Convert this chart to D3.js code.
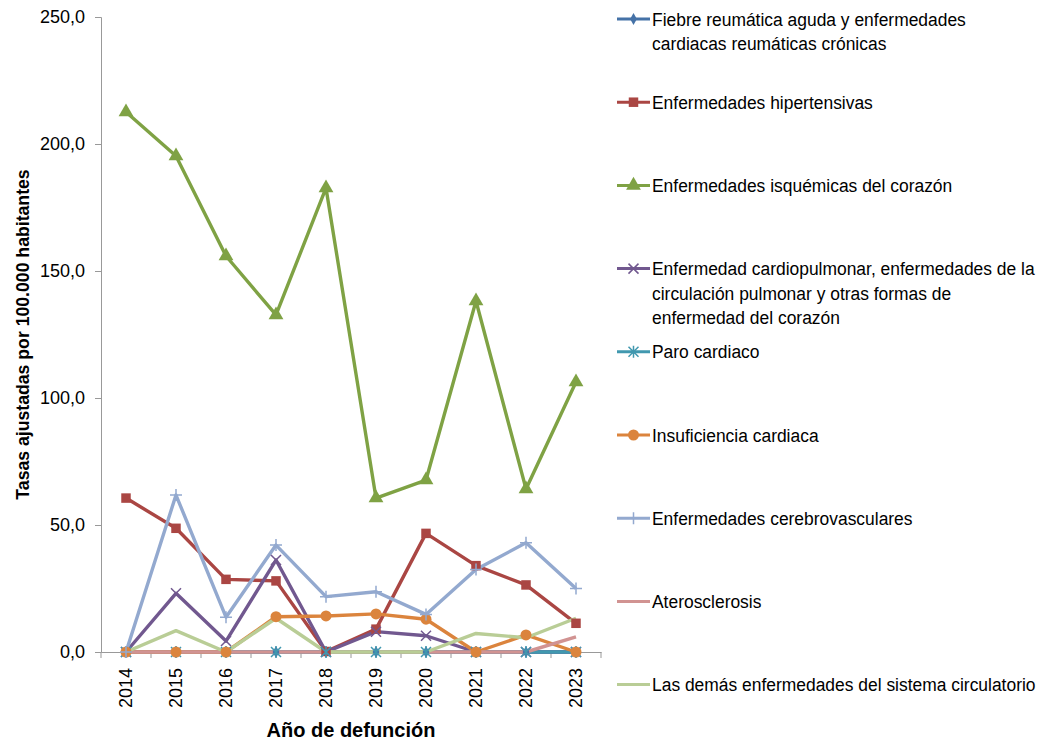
<!DOCTYPE html>
<html>
<head>
<meta charset="utf-8">
<script src="https://cdn.jsdelivr.net/npm/d3@7"></script>
<style>
  body { margin: 0; background: #fff; }
  text { font-family: "Liberation Sans Narrow", "Arial Narrow", "Liberation Sans", sans-serif; fill: #000; }
</style>
</head>
<body>
<div id="chart"></div>
<script>
var years = ['2014', '2015', '2016', '2017', '2018', '2019', '2020', '2021', '2022', '2023']
var yTicks = [0, 50, 100, 150, 200, 250]

var fiebre = [0, 0, 0, 0, 0, 0, 0, 0, 0, 0]
var hipertensivas = [60.6, 48.7, 28.6, 28.0, 0.2, 9.0, 46.7, 34.0, 26.4, 11.3]
var isquemicas = [212.6, 195.3, 155.9, 132.7, 182.7, 60.6, 67.7, 138.2, 64.2, 106.3]
var cardiopulmonar = [0, 23.1, 4.3, 36.2, 0, 8.0, 6.4, 0, 0, 0]
var paro = [0, 0, 0, 0, 0, 0, 0, 0, 0, 0]
var insuficiencia = [0, 0, 0, 13.9, 14.2, 15.0, 12.9, 0, 6.7, 0]
var cerebrovasculares = [0, 61.8, 13.7, 42.1, 21.8, 23.7, 14.8, 32.5, 43.0, 25.0]
var aterosclerosis = [0, 0, 0, 0, 0, 0, 0, 0, 0, 6.0]
var demas = [0, 8.4, 0, 13.3, 0, 0, 0, 7.3, 5.6, 13.3]

var series = [
  { name: ['Fiebre reumática aguda y enfermedades', 'cardiacas reumáticas crónicas'], values: fiebre, color: '#4572A7', marker: 'diamond' },
  { name: ['Enfermedades hipertensivas'], values: hipertensivas, color: '#AA4643', marker: 'square' },
  { name: ['Enfermedades isquémicas del corazón'], values: isquemicas, color: '#7FA244', marker: 'triangle' },
  { name: ['Enfermedad cardiopulmonar, enfermedades de la', 'circulación pulmonar y otras formas de', 'enfermedad del corazón'], values: cardiopulmonar, color: '#71588F', marker: 'x' },
  { name: ['Paro cardiaco'], values: paro, color: '#4198AF', marker: 'star' },
  { name: ['Insuficiencia cardiaca'], values: insuficiencia, color: '#DB843D', marker: 'circle' },
  { name: ['Enfermedades cerebrovasculares'], values: cerebrovasculares, color: '#93A9CF', marker: 'plus' },
  { name: ['Aterosclerosis'], values: aterosclerosis, color: '#D19392', marker: 'none' },
  { name: ['Las demás enfermedades del sistema circulatorio'], values: demas, color: '#B9CD96', marker: 'none' }
]

var width = 1039
var height = 742
var margin = { left: 101, right: 438, top: 17, bottom: 90 }

var svg = d3.select('#chart').append('svg')
  .attr('width', width)
  .attr('height', height)

var xScale = d3.scaleBand().domain(years).range([margin.left, width - margin.right])
var yScale = d3.scaleLinear().domain([0, 250]).range([height - margin.bottom, margin.top])

var yAxis = d3.axisLeft(yScale).tickValues(yTicks).tickSize(6).tickPadding(10)
  .tickFormat(function (d) { return d3.format('.1f')(d).replace('.', ',') })
var xAxis = d3.axisBottom(xScale).tickSize(0).tickPadding(8)

var gy = svg.append('g')
  .attr('transform', 'translate(' + margin.left + ',0)')
  .call(yAxis)
gy.select('.domain').attr('stroke', '#999')
gy.selectAll('.tick line').attr('stroke', '#999')
gy.selectAll('.tick text').style('font-size', '18px').attr('fill', '#000')

var gx = svg.append('g')
  .attr('transform', 'translate(0,' + yScale(0) + ')')
  .call(xAxis)
gx.select('.domain').attr('stroke', '#999')
gx.selectAll('.tick text')
  .style('font-size', '18px')
  .attr('fill', '#000')
  .attr('transform', 'rotate(-90)')
  .attr('text-anchor', 'end')
  .attr('dy', '0.35em')
  .attr('x', -16)
  .attr('y', 0)
// tick marks between categories
gx.selectAll('.sep').data(d3.range(years.length + 1)).enter().append('line')
  .attr('x1', function (i) { return margin.left + i * xScale.step() })
  .attr('x2', function (i) { return margin.left + i * xScale.step() })
  .attr('y1', 0).attr('y2', 6)
  .attr('stroke', '#999')

svg.append('text')
  .attr('transform', 'translate(29,' + ((margin.top + yScale(0)) / 2) + ') rotate(-90) scale(0.93,1)')
  .attr('text-anchor', 'middle')
  .style('font-size', '19px').style('font-weight', 'bold')
  .text('Tasas ajustadas por 100.000 habitantes')

svg.append('text')
  .attr('x', (margin.left + width - margin.right) / 2)
  .attr('y', 737)
  .attr('text-anchor', 'middle')
  .style('font-size', '20px').style('font-weight', 'bold')
  .text('Año de defunción')

function drawMarker(g, type, color, x, y) {
  if (type === 'diamond') {
    g.append('path').attr('d', d3.symbol(d3.symbolDiamond, 40)()).attr('transform', 'translate(' + x + ',' + y + ')').attr('fill', color)
  } else if (type === 'square') {
    g.append('path').attr('d', d3.symbol(d3.symbolSquare, 90)()).attr('transform', 'translate(' + x + ',' + y + ')').attr('fill', color)
  } else if (type === 'triangle') {
    g.append('path').attr('d', d3.symbol(d3.symbolTriangle, 95)()).attr('transform', 'translate(' + x + ',' + y + ')').attr('fill', color)
  } else if (type === 'circle') {
    g.append('circle').attr('cx', x).attr('cy', y).attr('r', 5.5).attr('fill', color)
  } else if (type === 'x') {
    g.append('path').attr('d', 'M-5,-5L5,5M-5,5L5,-5').attr('transform', 'translate(' + x + ',' + y + ')').attr('stroke', color).attr('stroke-width', 1.5)
  } else if (type === 'plus') {
    g.append('path').attr('d', 'M-6,0L6,0M0,-6L0,6').attr('transform', 'translate(' + x + ',' + y + ')').attr('stroke', color).attr('stroke-width', 1.5)
  } else if (type === 'star') {
    g.append('path').attr('d', 'M-5,-5L5,5M-5,5L5,-5M0,-6L0,6').attr('transform', 'translate(' + x + ',' + y + ')').attr('stroke', color).attr('stroke-width', 1.5)
  }
}

var line = d3.line()
  .x(function (d, i) { return xScale(years[i]) + xScale.bandwidth() / 2 })
  .y(function (d) { return yScale(d) })

var lines = svg.append('g')
series.forEach(function (s) {
  lines.append('path')
    .datum(s.values)
    .attr('d', line)
    .attr('fill', 'none')
    .attr('stroke', s.color)
    .attr('stroke-width', 3.4)
    .attr('stroke-linejoin', 'round')
})

var markers = svg.append('g')
series.forEach(function (s) {
  s.values.forEach(function (v, i) {
    drawMarker(markers, s.marker, s.color, xScale(years[i]) + xScale.bandwidth() / 2, yScale(v))
  })
})

// legend
var legend = svg.append('g')
series.forEach(function (s, i) {
  var y = 19 + i * 83.2
  legend.append('line')
    .attr('x1', 617).attr('x2', 650).attr('y1', y).attr('y2', y)
    .attr('stroke', s.color).attr('stroke-width', 3)
  drawMarker(legend, s.marker, s.color, 633.5, y)
  s.name.forEach(function (t, j) {
    legend.append('text')
      .attr('transform', 'translate(652,' + (y + j * 24.5) + ') scale(0.918,1)')
      .attr('dy', '0.35em')
      .style('font-size', '19px')
      .text(t)
  })
})
</script>
</body>
</html>
